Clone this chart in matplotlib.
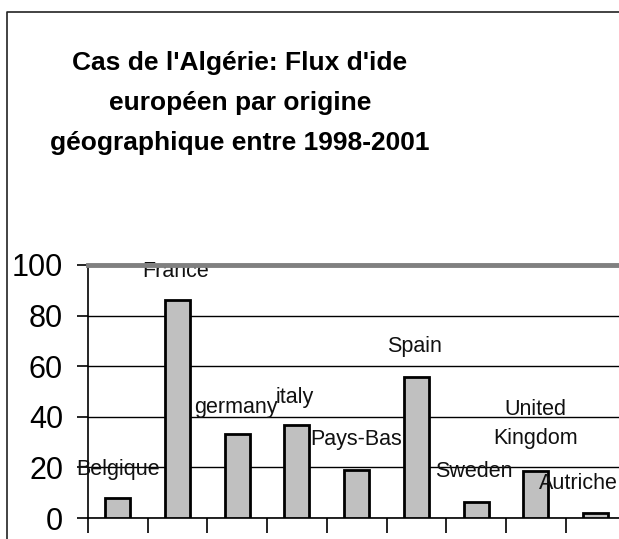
import matplotlib.pyplot as plt
from matplotlib.lines import Line2D

plt.rcParams['font.family'] = ['Liberation Sans', 'DejaVu Sans']

# data
countries = ['Belgique', 'France', 'germany', 'italy', 'Pays-Bas', 'Spain',
             'Sweden', 'United\nKingdom', 'Autriche']
flux = [7.8, 86.2, 33.2, 36.8, 19.0, 55.6, 6.4, 18.6, 2.0]

# where the category labels sit (x in category units, y in data units)
label_x = [0.0, 0.97, 1.98, 2.97, 3.99, 4.97, 5.96, 7.0, 7.72]
label_y = [19.0, 97.6, 43.5, 47.8, 31.2, 67.6, 18.2, 37.2, 13.8]

W, H = 619, 539
fig = plt.figure(figsize=(W / 100, H / 100), dpi=100)

# outer chart frame: only left and top edges are visible in the original
fx, fy = 6.5 / W, 1 - 12 / H
fig.add_artist(Line2D([fx, fx, 1.0], [0.0, fy, fy], transform=fig.transFigure,
                      color='#222222', lw=1.2))

fig.text(240 / W, 1 - 103 / H,
         "Cas de l'Algérie: Flux d'ide\neuropéen par origine\ngéographique entre 1998-2001",
         ha='center', va='center', fontsize=19, fontweight='bold',
         linespacing=1.85)

ax = fig.add_axes([88 / W, 1 - 518 / H, 9 * 59.7 / W, (518 - 265) / H])

x = list(range(len(countries)))
ax.bar(x, flux, width=0.42, color='#c0c0c0', edgecolor='black', linewidth=2,
       zorder=3)

for xi, yi, name in zip(label_x, label_y, countries):
    ax.text(xi, yi, name, ha='center', va='center', fontsize=15.5,
            color='#111111', linespacing=1.5, zorder=4, clip_on=False)

ax.set_xlim(-0.5, len(countries) - 0.5)
ax.set_ylim(0, 100)
ax.set_yticks([0, 20, 40, 60, 80, 100])
ax.set_xticks([i - 0.5 for i in range(len(countries) + 1)])
ax.set_xticklabels([])
ax.tick_params(axis='y', labelsize=22, length=8, width=1.2, pad=10,
               direction='out')
ax.tick_params(axis='x', length=11, width=1.2, direction='out')

ax.yaxis.grid(True, color='black', linewidth=1)
ax.set_axisbelow(True)

ax.spines['right'].set_visible(False)
ax.spines['left'].set_linewidth(1.2)
ax.spines['bottom'].set_linewidth(1.2)
ax.spines['top'].set_color('#808080')
ax.spines['top'].set_linewidth(3.5)
ax.spines['top'].set_zorder(5)

fig.savefig('out.png', dpi=100)
